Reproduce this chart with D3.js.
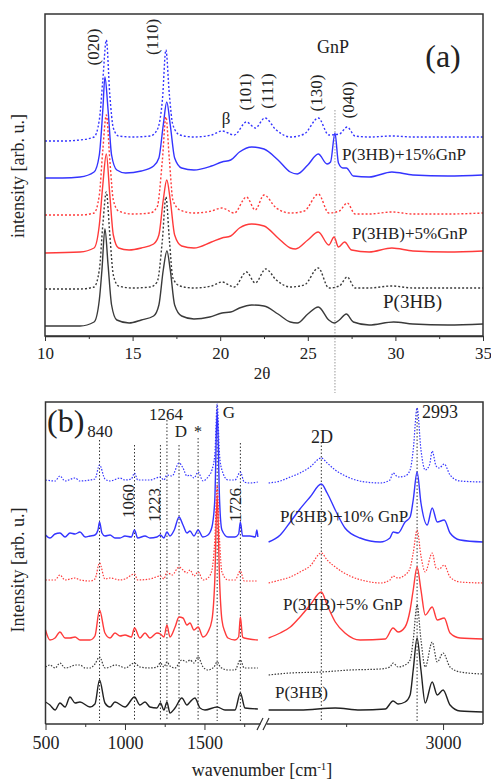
<!DOCTYPE html>
<html>
<head>
<meta charset="utf-8">
<script src="https://cdn.jsdelivr.net/npm/d3@7"></script>
<style>
  body { margin: 0; background: #fff; }
</style>
</head>
<body>
<div id="chart"></div>
<script>
// ---- panel (a): XRD, [2theta, intensity (arb. u.)] ----
const xrdTicks = [10, 15, 20, 25, 30, 35];
const xrdMinor = [12.5, 17.5, 22.5, 27.5, 32.5];

const xrd15Dot = [[10,195],[11,195],[12,196],[12.8,199],[13.1,216],[13.3,256],[13.5,296],[13.7,241],[13.9,208],[14.2,200],[15,199],[16,200],[16.4,206],[16.7,236],[16.9,286],[17.1,241],[17.3,211],[17.7,201],[18.5,199],[19.5,201],[20.1,205],[20.8,201],[21.5,214],[22,208],[22.55,218],[23.2,206],[24,199],[24.8,202],[25.6,218],[26.2,201],[26.8,202],[27.25,209],[27.7,200],[28.5,199],[29.8,200],[31,199],[33,199],[35,199]];
const xrd15 = [[10,158],[11,158],[12,159],[12.8,164],[13.1,181],[13.3,226],[13.42,259],[13.6,226],[13.8,181],[14.1,166],[14.6,163],[15.5,165],[16.2,170],[16.5,178],[16.75,211],[16.95,234],[17.15,211],[17.4,178],[17.8,168],[18.5,166],[19.5,170],[20.1,174],[20.6,176],[21.1,184],[21.8,189],[22.5,187],[23.3,176],[24,164],[24.4,162],[25,171],[25.6,182],[26.1,172],[26.3,174],[26.55,203],[26.75,173],[27,168],[27.2,168],[27.6,160],[28.5,159],[29.8,164],[31,161],[33,160],[35,161]];
const xrd5Dot = [[10,121],[12,121],[12.8,123],[13.1,141],[13.3,186],[13.5,221],[13.7,176],[13.9,136],[14.2,125],[15,122],[16,123],[16.4,129],[16.7,176],[16.9,219],[17.1,176],[17.3,136],[17.7,126],[18.5,123],[19.5,125],[20.1,128],[20.8,123],[21.5,139],[22,126],[22.5,141],[23.2,128],[24,123],[24.8,125],[25.6,142],[26.2,123],[26.8,125],[27.25,133],[27.7,122],[28.5,122],[29.8,124],[31,122],[33,122],[35,123]];
const xrd5 = [[10,83],[12,84],[12.8,88],[13.1,111],[13.3,151],[13.5,182],[13.7,141],[13.9,101],[14.2,88],[14.8,86],[15.5,88],[16.2,92],[16.5,101],[16.75,136],[16.95,156],[17.15,136],[17.4,101],[17.8,90],[18.5,88],[19.5,94],[20.1,98],[20.6,100],[21.1,108],[21.8,112],[22.5,110],[23.3,98],[24,88],[24.3,87],[25,96],[25.6,104],[26.2,91],[26.5,99],[26.75,89],[27.1,94],[27.5,86],[28.5,84],[29.8,88],[31,85],[33,84],[35,85]];
const xrd0Dot = [[10,47],[12,47],[12.8,49],[13.1,66],[13.3,111],[13.5,144],[13.7,101],[13.9,61],[14.2,50],[15,48],[16,49],[16.4,54],[16.7,96],[16.9,139],[17.1,96],[17.3,58],[17.7,50],[18.5,48],[19.5,50],[20.1,54],[20.8,49],[21.5,64],[22,53],[22.6,67],[23.2,56],[24,49],[24.8,51],[25.6,68],[26.2,48],[26.8,50],[27.25,59],[27.7,48],[28.5,48],[29.8,50],[31,48],[33,48],[35,48]];
const xrd0 = [[10,10],[12,10],[12.8,14],[13.1,36],[13.25,66],[13.42,107],[13.6,71],[13.8,31],[14.1,16],[14.8,13],[15.5,16],[16.2,20],[16.5,31],[16.75,66],[16.96,85],[17.15,66],[17.4,31],[17.8,20],[18.5,17],[19.4,19],[20.1,23],[20.6,24],[21.1,28],[21.8,31],[22.5,30],[23.3,22],[24,14],[24.4,13],[25,22],[25.6,29],[26.2,16],[26.5,13],[26.8,16],[27.2,22],[27.6,14],[28.5,11],[29.9,14],[31,12],[33,11],[35,12]];

const hklLabels = ["(020)", "(110)", "(101)", "(111)", "(130)", "(040)"];
const gnpPeak = 26.55;

// ---- panel (b): Raman, [wavenumber, intensity (arb. u.)] ----
const ramanTicks = [500, 1000, 1500, 3000];
const ramanMinor = [750, 1250, 1750, 2750];

const raman10Dot = [[500,244],[560,243],[591,248],[623,243],[686,246],[717,243],[780,244],[811,245],[840,259],[874,245],[906,243],[969,246],[1000,244],[1040,245],[1060,251],[1080,244],[1157,244],[1223,247],[1245,244],[1264,249],[1296,248],[1340,261],[1365,256],[1390,248],[1409,249],[1434,246],[1460,252],[1491,243],[1522,247],[1547,254],[1565,269],[1580,320],[1595,269],[1610,254],[1648,244],[1692,244],[1726,252],[1750,242],[1786,241],[1836,242],
  [2550,241],[2580,243],[2606,247],[2631,251],[2657,257],[2686,266],[2701,261],[2722,254],[2760,246],[2800,242],[2838,241],[2863,244],[2871,251],[2884,247],[2902,248],[2915,254],[2923,274],[2933,316],[2943,274],[2954,254],[2965,259],[2972,273],[2982,258],[2990,256],[3003,260],[3018,249],[3044,243],[3103,242]];
const raman10 = [[500,189],[528,186],[560,190],[591,191],[623,187],[654,191],[686,190],[717,192],[750,187],[780,188],[811,189],[830,194],[840,202],[855,191],[874,188],[906,189],[937,186],[969,186],[1000,188],[1040,187],[1060,194],[1080,186],[1126,188],[1157,186],[1201,187],[1223,189],[1245,186],[1264,192],[1283,188],[1310,194],[1340,207],[1365,199],[1390,191],[1409,193],[1434,188],[1460,194],[1490,187],[1522,189],[1547,197],[1565,224],[1580,314],[1595,224],[1610,194],[1648,187],[1692,187],[1715,190],[1726,202],[1740,188],[1786,188],[1820,187],[1830,194],[1836,187],
  [2550,182],[2580,189],[2606,202],[2631,215],[2657,227],[2686,240],[2701,231],[2722,214],[2747,196],[2786,186],[2838,182],[2863,186],[2871,192],[2884,191],[2902,202],[2915,207],[2923,224],[2933,252],[2943,221],[2959,199],[2972,216],[2985,202],[3003,204],[3018,191],[3044,184],[3103,182]];
const raman5Dot = [[500,144],[560,144],[591,149],[623,144],[686,146],[717,144],[780,143],[811,145],[840,161],[874,145],[906,146],[969,144],[1000,145],[1060,150],[1080,144],[1157,145],[1223,148],[1245,145],[1264,152],[1296,149],[1340,157],[1365,154],[1390,151],[1409,154],[1434,148],[1460,152],[1491,144],[1522,146],[1547,154],[1565,184],[1580,239],[1595,184],[1610,152],[1648,144],[1692,144],[1726,153],[1750,143],[1836,143],
  [2550,141],[2580,144],[2606,147],[2631,152],[2657,158],[2686,171],[2701,164],[2722,157],[2760,148],[2800,143],[2838,141],[2863,144],[2871,148],[2884,146],[2902,149],[2915,156],[2923,171],[2933,194],[2943,168],[2954,152],[2972,171],[2982,156],[2990,155],[3003,159],[3018,147],[3044,142],[3103,141]];
const raman5 = [[500,94],[528,84],[560,86],[591,92],[623,86],[654,86],[686,87],[717,84],[780,84],[811,88],[840,114],[874,91],[906,86],[937,91],[969,88],[1000,89],[1040,87],[1060,96],[1094,86],[1126,91],[1157,86],[1201,91],[1223,90],[1245,87],[1264,99],[1283,87],[1315,97],[1340,107],[1365,106],[1390,99],[1409,101],[1434,94],[1460,97],[1491,87],[1522,92],[1547,104],[1565,144],[1580,229],[1595,144],[1610,104],[1629,92],[1648,86],[1692,84],[1715,87],[1726,107],[1740,87],[1750,86],[1836,84],
  [2550,86],[2580,91],[2606,97],[2631,107],[2657,119],[2686,132],[2701,119],[2722,102],[2747,91],[2786,84],[2851,85],[2871,96],[2884,92],[2902,97],[2915,114],[2923,134],[2933,157],[2943,134],[2954,109],[2972,117],[2985,104],[3003,106],[3018,91],[3044,86],[3103,85]];
const raman0Dot = [[500,57],[528,59],[560,56],[591,61],[623,56],[654,57],[686,59],[717,59],[750,56],[780,56],[811,60],[840,67],[874,56],[906,57],[937,59],[969,58],[1000,56],[1060,61],[1094,57],[1157,56],[1201,57],[1223,61],[1245,57],[1264,62],[1283,58],[1315,56],[1358,64],[1390,62],[1409,64],[1434,61],[1460,67],[1491,57],[1522,54],[1560,57],[1580,62],[1600,57],[1648,54],[1692,54],[1726,64],[1750,56],[1836,56],
  [2550,49],[2606,51],[2686,52],[2760,54],[2838,55],[2863,57],[2871,61],[2884,57],[2902,59],[2915,64],[2923,84],[2933,119],[2943,84],[2954,57],[2972,82],[2985,62],[3000,71],[3018,57],[3044,52],[3103,50]];
const raman0 = [[500,22],[528,19],[560,14],[591,21],[623,17],[654,27],[686,21],[717,22],[780,17],[811,20],[840,44],[874,21],[906,17],[937,22],[1000,17],[1060,27],[1094,19],[1126,22],[1157,17],[1201,16],[1223,21],[1245,14],[1264,22],[1283,11],[1315,16],[1358,26],[1390,19],[1409,22],[1440,26],[1472,16],[1503,14],[1580,17],[1629,14],[1692,14],[1726,31],[1755,16],[1836,15],
  [2550,14],[2631,14],[2722,16],[2786,14],[2851,15],[2871,23],[2884,20],[2902,22],[2915,29],[2923,54],[2933,86],[2943,54],[2954,21],[2972,42],[2985,29],[3000,34],[3018,19],[3044,13],[3103,12]];

// marked bands: position, label, top of the dotted guide (intensity)
const bandPos = [840, 1060, 1223, 1264, 1340, 1460, 1580, 1726, 2686, 2933];
const bandLabels = ["840", "1060", "1223", "1264", "D", "*", "G", "1726", "2D", "2993"];
const bandTop = [284, 279, 279, 304, 279, 286, 319, 281, 282, 316];

const blue = "#3434ff", red = "#ff3a3a", dark = "#3a3a3a";
const serif = '"Liberation Serif", Tinos, "Times New Roman", serif';

const svg = d3.select("#chart").append("svg")
    .attr("width", 491)
    .attr("height", 783)
    .style("font-family", serif);

// ================= panel (a) =================
const xA = d3.scaleLinear().domain([10, 35]).range([45, 483]);
const yA = d3.scaleLinear().domain([0, 322]).range([336, 14]);

const lineA = d3.line()
    .x(d => xA(d[0]))
    .y(d => yA(d[1]))
    .curve(d3.curveMonotoneX);

const seriesA = [
  {data: xrd15Dot, color: blue, dot: true},
  {data: xrd15, color: blue, dot: false},
  {data: xrd5Dot, color: red, dot: true},
  {data: xrd5, color: red, dot: false},
  {data: xrd0Dot, color: dark, dot: true},
  {data: xrd0, color: dark, dot: false}
];

// GnP reflection guide
svg.append("line")
    .attr("x1", xA(gnpPeak)).attr("x2", xA(gnpPeak))
    .attr("y1", yA(226)).attr("y2", 393)
    .attr("stroke", "#999").attr("stroke-width", 1)
    .attr("stroke-dasharray", "1.5,1.5");

svg.selectAll("path.xrd")
  .data(seriesA)
  .join("path")
    .attr("class", "xrd")
    .attr("d", d => lineA(d.data))
    .attr("fill", "none")
    .attr("stroke", d => d.color)
    .attr("stroke-width", 1.4)
    .attr("stroke-dasharray", d => d.dot ? "2,2" : null);

svg.append("rect")
    .attr("x", 45).attr("y", 14)
    .attr("width", 438).attr("height", 322)
    .attr("fill", "none").attr("stroke", "#333").attr("stroke-width", 1.5);

const axA = svg.append("g")
    .attr("transform", "translate(0,336)")
    .call(d3.axisBottom(xA).tickValues(xrdTicks).tickSize(5).tickSizeOuter(0).tickPadding(6));
svg.append("g")
    .attr("transform", "translate(0,336)")
    .call(d3.axisBottom(xA).tickValues(xrdMinor).tickSize(3).tickFormat(""))
    .select(".domain").remove();
axA.selectAll("text").style("font-size", "17px");

svg.append("text")
    .attr("x", 262).attr("y", 379)
    .attr("text-anchor", "middle")
    .style("font-size", "17px")
    .text("2θ");

svg.append("text")
    .attr("transform", "translate(24,176) rotate(-90)")
    .attr("text-anchor", "middle")
    .style("font-size", "18px")
    .text("intensity [arb. u.]");

// hkl labels (rotated)
const hklX = [12.74, 16.11, 21.42, 22.67, 25.47, 27.29];
const hklY = [47, 37, 92, 91, 93, 100];
hklLabels.forEach((t, i) => {
  svg.append("text")
      .attr("transform", `translate(${xA(hklX[i])},${hklY[i]}) rotate(-90)`)
      .attr("text-anchor", "middle")
      .attr("dy", "0.35em")
      .style("font-size", "17px")
      .text(t);
});

svg.append("text").attr("x", 226).attr("y", 124).attr("text-anchor", "middle")
    .style("font-size", "17px").text("β");
svg.append("text").attr("x", 333).attr("y", 53).attr("text-anchor", "middle")
    .style("font-size", "18px").text("GnP");
svg.append("text").attr("x", 443).attr("y", 67).attr("text-anchor", "middle")
    .style("font-size", "32px").text("(a)");
svg.append("text").attr("x", 342).attr("y", 160)
    .style("font-size", "17px").text("P(3HB)+15%GnP");
svg.append("text").attr("x", 352).attr("y", 239)
    .style("font-size", "17px").text("P(3HB)+5%GnP");
svg.append("text").attr("x", 383).attr("y", 308)
    .style("font-size", "19px").text("P(3HB)");

// ================= panel (b) =================
const xL = d3.scaleLinear().domain([500, 1840]).range([45.5, 258.5]);
const xR = d3.scaleLinear().domain([2550, 3103]).range([268.6, 483]);
const yB = d3.scaleLinear().domain([0, 322]).range([724, 402]);
const xB = w => w < 2000 ? xL(w) : xR(w);

const lineB = d3.line()
    .x(d => xB(d[0]))
    .y(d => yB(d[1]))
    .curve(d3.curveMonotoneX);

// guides
bandPos.forEach((w, i) => {
  svg.append("line")
      .attr("x1", xB(w)).attr("x2", xB(w))
      .attr("y1", yB(bandTop[i])).attr("y2", 721)
      .attr("stroke", "#333").attr("stroke-width", 1)
      .attr("stroke-dasharray", "1.5,2");
});

const seriesB = [
  {data: raman10Dot, color: blue, dot: true},
  {data: raman10, color: blue, dot: false},
  {data: raman5Dot, color: red, dot: true},
  {data: raman5, color: red, dot: false},
  {data: raman0Dot, color: dark, dot: true},
  {data: raman0, color: "#222", dot: false}
];

seriesB.forEach(s => {
  const parts = [s.data.filter(d => d[0] < 2000), s.data.filter(d => d[0] > 2000)];
  parts.forEach(p => {
    svg.append("path")
        .attr("d", lineB(p))
        .attr("fill", "none")
        .attr("stroke", s.color)
        .attr("stroke-width", s.dot ? 1.2 : 1.4)
        .attr("stroke-dasharray", s.dot ? "1.5,1.5" : null);
  });
});

// frame (left, top, right)
svg.append("path")
    .attr("d", "M45.5,724V402H483V724")
    .attr("fill", "none").attr("stroke", "#333").attr("stroke-width", 1.5);

const fmt = d3.format("d");
const axL = svg.append("g")
    .attr("transform", "translate(0,724)")
    .call(d3.axisBottom(xL).tickValues(ramanTicks.filter(t => t < 2000)).tickFormat(fmt).tickSize(6).tickSizeOuter(0).tickPadding(6));
axL.select(".domain").attr("d", "M45.5,0H260.5");
const axR = svg.append("g")
    .attr("transform", "translate(0,724)")
    .call(d3.axisBottom(xR).tickValues(ramanTicks.filter(t => t > 2000)).tickFormat(fmt).tickSize(6).tickSizeOuter(0).tickPadding(6));
axR.select(".domain").attr("d", "M266.5,0H483");
[xL, xR].forEach((sc, k) => {
  svg.append("g")
      .attr("transform", "translate(0,724)")
      .call(d3.axisBottom(sc).tickValues(ramanMinor.filter(t => k ? t > 2000 : t < 2000)).tickSize(3).tickFormat(""))
      .select(".domain").remove();
});
[axL, axR].forEach(a => a.selectAll("text").style("font-size", "18px"));

svg.selectAll("g.tick line").attr("stroke", "#333");
svg.selectAll(".domain").attr("stroke", "#333").attr("stroke-width", 1.5);

// axis break marks
svg.append("path")
    .attr("d", "M257,730L263,718M263,730L269,718")
    .attr("stroke", "#333").attr("stroke-width", 1.2).attr("fill", "none");

const wl = svg.append("text")
    .attr("x", 262).attr("y", 776)
    .attr("text-anchor", "middle")
    .style("font-size", "18px");
wl.append("tspan").text("wavenumber [cm");
wl.append("tspan").attr("baseline-shift", "super").style("font-size", "11px").text("-1");
wl.append("tspan").text("]");

svg.append("text")
    .attr("transform", "translate(24,570) rotate(-90)")
    .attr("text-anchor", "middle")
    .style("font-size", "18px")
    .text("Intensity [arb. u.]");

svg.append("text").attr("x", 47).attr("y", 432)
    .style("font-size", "32px").text("(b)");

// band labels
const bandLab = [
  {x: 100, y: 437, rot: false},
  {x: 128, y: 501, rot: true},
  {x: 154, y: 505, rot: true},
  {x: 166, y: 420, rot: false},
  {x: 181, y: 437, rot: false},
  {x: 198, y: 437, rot: false},
  {x: 229, y: 418, rot: false},
  {x: 235, y: 505, rot: true},
  {x: 322, y: 443, rot: false},
  {x: 440, y: 418, rot: false}
];
bandLabels.forEach((t, i) => {
  const p = bandLab[i];
  if (p.rot) {
    svg.append("text")
        .attr("transform", `translate(${p.x},${p.y}) rotate(-90)`)
        .attr("text-anchor", "middle").attr("dy", "0.35em")
        .style("font-size", "17px").text(t);
  } else {
    svg.append("text")
        .attr("x", p.x).attr("y", p.y)
        .attr("text-anchor", "middle")
        .style("font-size", i === 5 ? "16px" : (i >= 8 ? "18px" : "17px"))
        .text(t);
  }
});

svg.append("text").attr("x", 280).attr("y", 522)
    .style("font-size", "17px").text("P(3HB)+10% GnP");
svg.append("text").attr("x", 283).attr("y", 610)
    .style("font-size", "17px").text("P(3HB)+5% GnP");
svg.append("text").attr("x", 275).attr("y", 698)
    .style("font-size", "17px").text("P(3HB)");

// d3 axes set a sans-serif font on their groups; use the serif face everywhere
svg.selectAll("g").attr("font-family", null);
svg.selectAll("text").style("font-family", serif).attr("fill", "#222");
</script>
</body>
</html>
